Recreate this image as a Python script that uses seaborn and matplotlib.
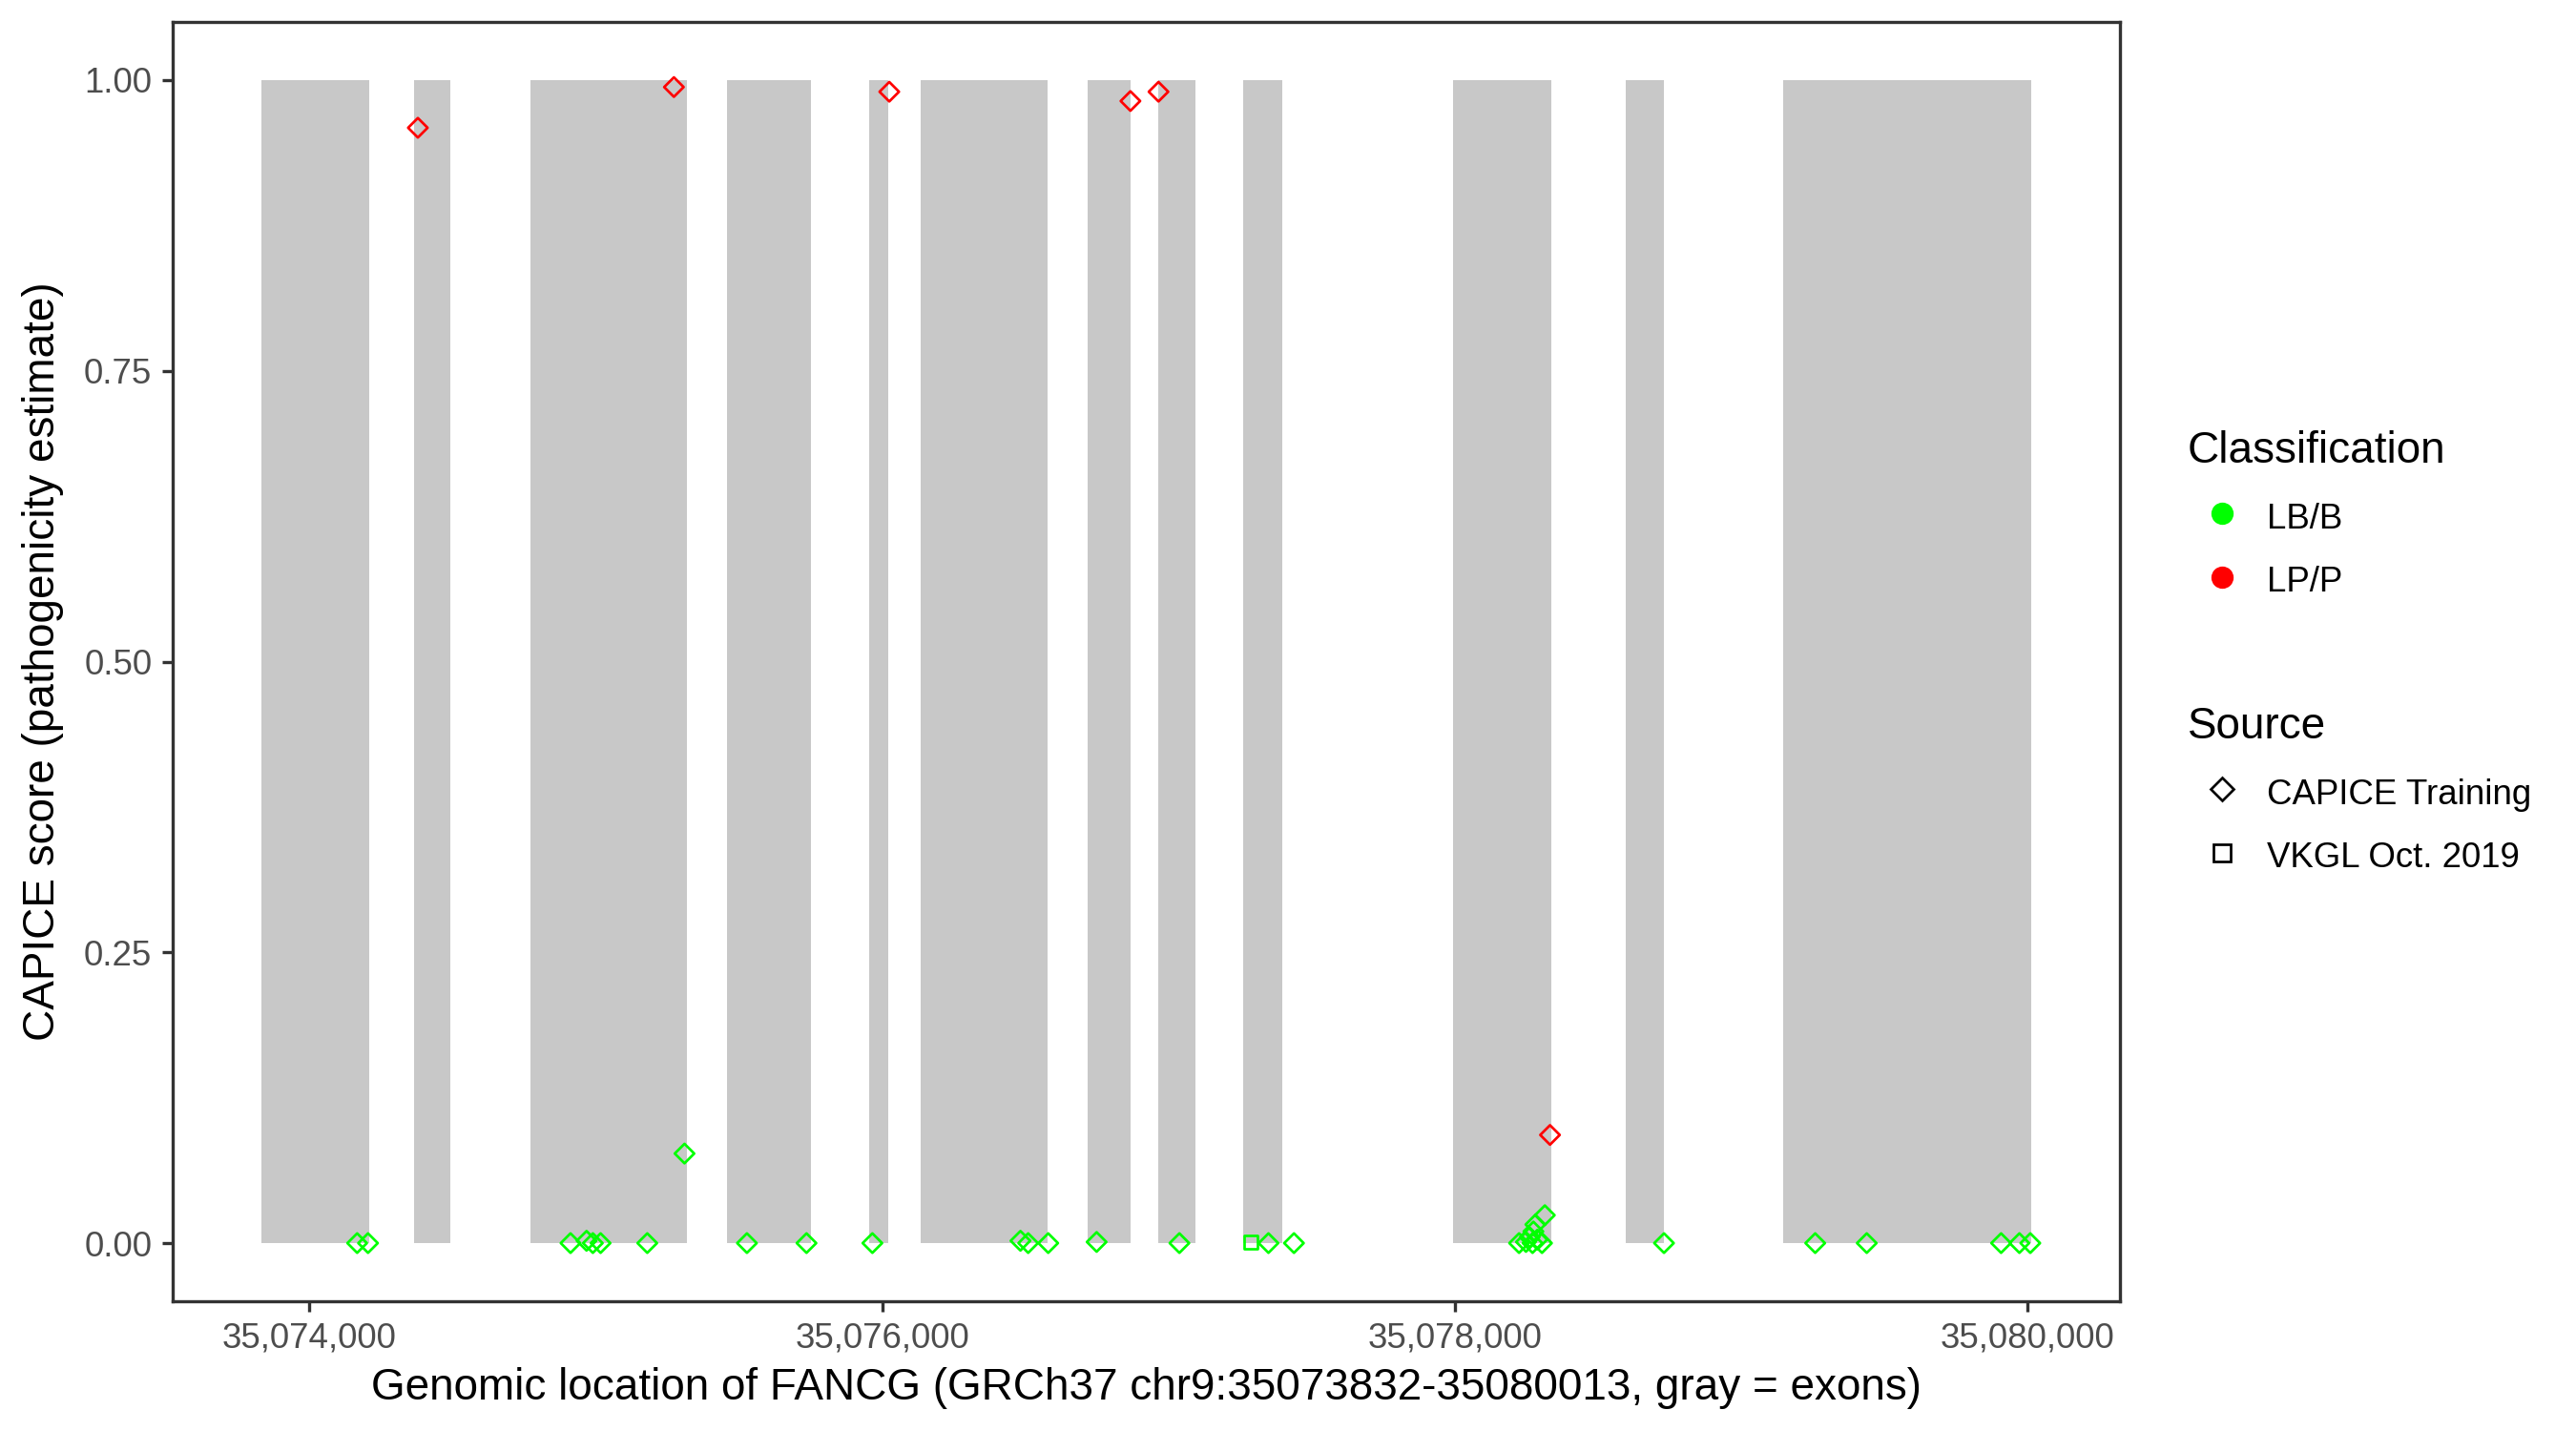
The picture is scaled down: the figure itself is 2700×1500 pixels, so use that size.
import matplotlib
matplotlib.use("Agg")
import matplotlib.pyplot as plt
from matplotlib.lines import Line2D
from matplotlib.ticker import FuncFormatter, FixedLocator
import seaborn as sns
import pandas as pd

# ---- data ----
gene_start = 35073832
gene_end = 35080013

exon_starts = [35073832, 35074367, 35074773, 35075460, 35075956, 35076135,
               35076719, 35076965, 35077259, 35077994, 35078598, 35079147]
exon_ends = [35074210, 35074491, 35075320, 35075750, 35076023, 35076579,
             35076866, 35077095, 35077396, 35078338, 35078729, 35080013]

variant_pos = [
    35074379, 35075273, 35076025, 35076867, 35076965, 35078332,
    35074167, 35074205, 35075310, 35074912, 35074968, 35074990, 35075017,
    35075180, 35075528, 35075736, 35075966, 35076483, 35076510, 35076580,
    35076749, 35077038, 35077349, 35077438,
    35078224, 35078248, 35078261, 35078271, 35078288, 35078304, 35078274,
    35078281, 35078314,
    35078730, 35079258, 35079438, 35079907, 35079971, 35080009,
    35077288,
]
variant_score = [
    0.959, 0.994, 0.990, 0.982, 0.990, 0.093,
    0.000, 0.000, 0.077, 0.000, 0.002, 0.000, 0.000,
    0.000, 0.000, 0.000, 0.000, 0.002, 0.000, 0.000,
    0.001, 0.000, 0.000, 0.000,
    0.000, 0.001, 0.005, 0.000, 0.003, 0.000, 0.010,
    0.016, 0.024,
    0.000, 0.000, 0.000, 0.000, 0.000, 0.000,
    0.001,
]
variant_class = ["LP/P"] * 6 + ["LB/B"] * 34
variant_source = ["CAPICE Training"] * 39 + ["VKGL Oct. 2019"]

class_levels = ["LB/B", "LP/P"]
class_colors = ["#00FF00", "#FF0000"]
source_levels = ["CAPICE Training", "VKGL Oct. 2019"]
source_markers = ["D", "s"]

x_ticks = [35074000, 35076000, 35078000, 35080000]
y_ticks = [0.0, 0.25, 0.5, 0.75, 1.0]

df = pd.DataFrame({"pos": variant_pos, "score": variant_score,
                   "Classification": variant_class, "Source": variant_source})

# ---- style ----
sns.set_theme(style="white")
plt.rcParams['font.family'] = ['Liberation Sans', 'DejaVu Sans']

fig = plt.figure(figsize=(9, 5), dpi=300)
L, R, T, B = 181 / 2700, 2222 / 2700, 1 - 23 / 1500, 1 - 1364 / 1500
ax = fig.add_axes([L, B, R - L, T - B])

# exons
widths = [e - s for s, e in zip(exon_starts, exon_ends)]
ax.bar(exon_starts, [1.0] * len(exon_starts), width=widths, bottom=0,
       align="edge", color="#C8C8C8", linewidth=0, zorder=1)

sns.scatterplot(data=df, x="pos", y="score", hue="Classification",
                style="Source", hue_order=class_levels, style_order=source_levels,
                palette=dict(zip(class_levels, class_colors)),
                markers=dict(zip(source_levels, source_markers)),
                s=12, linewidth=0.65, legend=False, ax=ax, zorder=3)
for coll in ax.collections:
    fc = coll.get_facecolors()
    coll.set_edgecolors(fc)
    coll.set_facecolors("none")
    coll.set_linewidths(0.65)

span = gene_end - gene_start
ax.set_xlim(gene_start - 0.05 * span, gene_end + 0.05 * span)
ax.set_ylim(-0.05, 1.05)

ax.xaxis.set_major_locator(FixedLocator(x_ticks))
ax.xaxis.set_major_formatter(FuncFormatter(lambda v, p: f"{int(round(v)):,}"))
ax.yaxis.set_major_locator(FixedLocator(y_ticks))
ax.yaxis.set_major_formatter(FuncFormatter(lambda v, p: f"{v:.2f}"))

ax.tick_params(axis="both", which="major", bottom=True, left=True,
               length=2.6, width=0.8, color="#333333", labelsize=8.8,
               labelcolor="#4D4D4D", pad=2.6, direction="out")
for sp in ax.spines.values():
    sp.set_visible(True)
    sp.set_color("#333333")
    sp.set_linewidth(0.8)

ax.set_xlabel("Genomic location of FANCG (GRCh37 chr9:35073832-35080013, gray = exons)",
              fontsize=11, color="black", labelpad=3)
ax.set_ylabel("CAPICE score (pathogenicity estimate)", fontsize=11,
              color="black", labelpad=5)

# legends
h1 = [Line2D([], [], marker="o", ls="", markerfacecolor=c, markeredgecolor=c,
             markersize=4.6) for c in class_colors]
h2 = [Line2D([], [], marker=m, ls="", markerfacecolor="none",
             markeredgecolor="black", markeredgewidth=0.65,
             markersize=(4.0 if m == "D" else 4.1)) for m in source_markers]

common = dict(loc="upper left", frameon=False, fontsize=8.8, title_fontsize=11,
              alignment="left", borderpad=0, borderaxespad=0,
              handlelength=1.96, handleheight=1.2, handletextpad=0.3,
              labelspacing=0.75)
leg1 = fig.legend(handles=h1, labels=class_levels, title="Classification",
                  bbox_to_anchor=(0.8493, 1 - 451 / 1500), **common)
leg2 = fig.legend(handles=h2, labels=source_levels, title="Source",
                  bbox_to_anchor=(0.8493, 1 - 740 / 1500), **common)
for lg in (leg1, leg2):
    lg.get_title().set_color("black")
    for t in lg.get_texts():
        t.set_color("black")

fig.savefig("out.png", dpi=300, facecolor="white")
